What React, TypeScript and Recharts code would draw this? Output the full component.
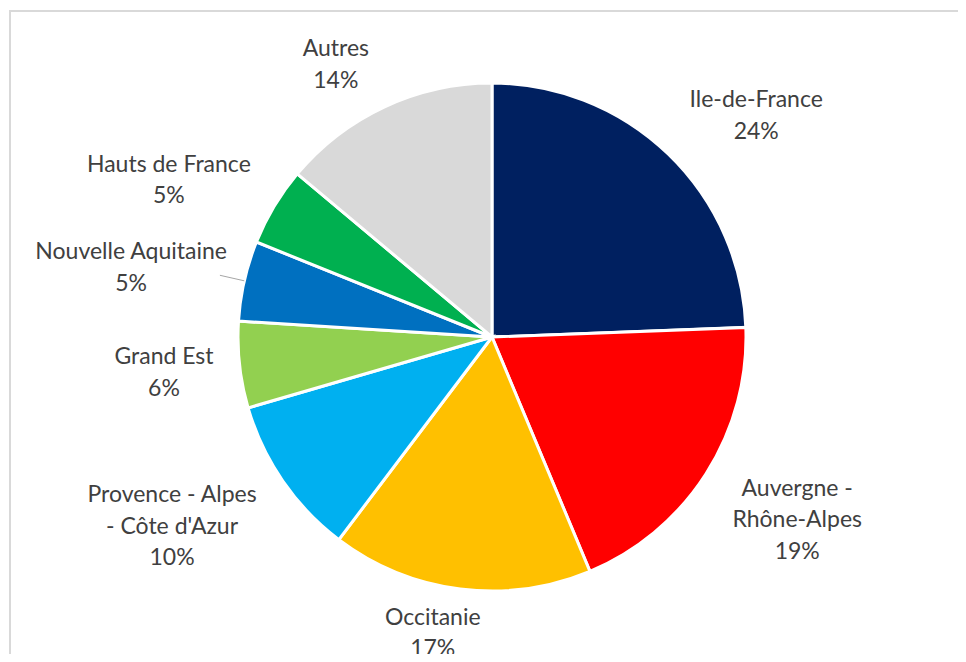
import { PieChart, Pie, Cell } from "recharts";

// regions, clockwise from 12 o'clock
const regions = [
  "Ile-de-France",
  "Auvergne - Rhône-Alpes",
  "Occitanie",
  "Provence - Alpes - Côte d'Azur",
  "Grand Est",
  "Nouvelle Aquitaine",
  "Hauts de France",
  "Autres",
];
// share in %
const shares = [24.4, 19.3, 16.6, 10.2, 5.5, 5.1, 5.0, 13.9];
// how the label text wraps
const labelLines = [
  ["Ile-de-France"],
  ["Auvergne -", "Rhône-Alpes"],
  ["Occitanie"],
  ["Provence - Alpes", "- Côte d'Azur"],
  ["Grand Est"],
  ["Nouvelle Aquitaine"],
  ["Hauts de France"],
  ["Autres"],
];

const COLORS = ["#002060", "#FF0000", "#FFC000", "#00B0F0", "#92D050", "#0070C0", "#00B050", "#D9D9D9"];
// nudge of each label box from the default spot on its mid angle
const LABEL_NUDGE: [number, number][] = [
  [36, 14], [28, 4], [-18, -32], [-49, 1], [-1, -2], [-40, 2], [-41, 11], [-17, 24],
];
const LEADER = [false, false, false, false, false, true, false, false];

const data = regions.map((name, i) => ({ name, value: shares[i] }));

const FONT = "Lato, 'Open Sans', sans-serif";
const LINE_H = 31.5;
const RAD = Math.PI / 180;

const renderLabel = (props: any) => {
  const { cx, cy, midAngle, outerRadius, index, value } = props;
  const cos = Math.cos(-midAngle * RAD);
  const sin = Math.sin(-midAngle * RAD);
  const R = outerRadius + 75;
  const x = cx + R * cos + LABEL_NUDGE[index][0];
  const y = cy + R * sin + LABEL_NUDGE[index][1];
  const lines = [...labelLines[index], `${Math.round(value)}%`];
  const top = y - ((lines.length - 1) * LINE_H) / 2;
  return (
    <g key={`lbl-${index}`}>
      {LEADER[index] && (
        <polyline
          points={`${cx + outerRadius * cos},${cy + outerRadius * sin} ${cx + (outerRadius + 25) * cos},${cy + (outerRadius + 25) * sin}`}
          fill="none"
          stroke="#a6a6a6"
          strokeWidth={1}
        />
      )}
      <text x={x} y={top} textAnchor="middle" dominantBaseline="central" fill="#404040" fontSize={23} fontFamily={FONT}>
        {lines.map((l, j) => (
          <tspan key={j} x={x} y={top + j * LINE_H}>{l}</tspan>
        ))}
      </text>
    </g>
  );
};

export default function App() {
  return (
    <div style={{ margin: -8, width: 966, height: 662, position: "relative", overflow: "hidden", background: "#fff" }}>
      <div
        style={{
          position: "absolute",
          left: 9,
          top: 10,
          width: 1000,
          height: 700,
          borderTop: "2px solid #d9d9d9",
          borderLeft: "2px solid #d9d9d9",
        }}
      />
      <div style={{ position: "absolute", left: 0, top: 0 }}>
        <PieChart width={966} height={662} margin={{ top: 0, right: 0, bottom: 0, left: 0 }}>
          <Pie
            data={data}
            dataKey="value"
            nameKey="name"
            cx={492}
            cy={337}
            outerRadius={254}
            startAngle={90}
            endAngle={-270}
            stroke="#ffffff"
            strokeWidth={3}
            label={renderLabel}
            labelLine={false}
            isAnimationActive={false}
          >
            {data.map((d, i) => (
              <Cell key={d.name} fill={COLORS[i]} />
            ))}
          </Pie>
        </PieChart>
      </div>
    </div>
  );
}
